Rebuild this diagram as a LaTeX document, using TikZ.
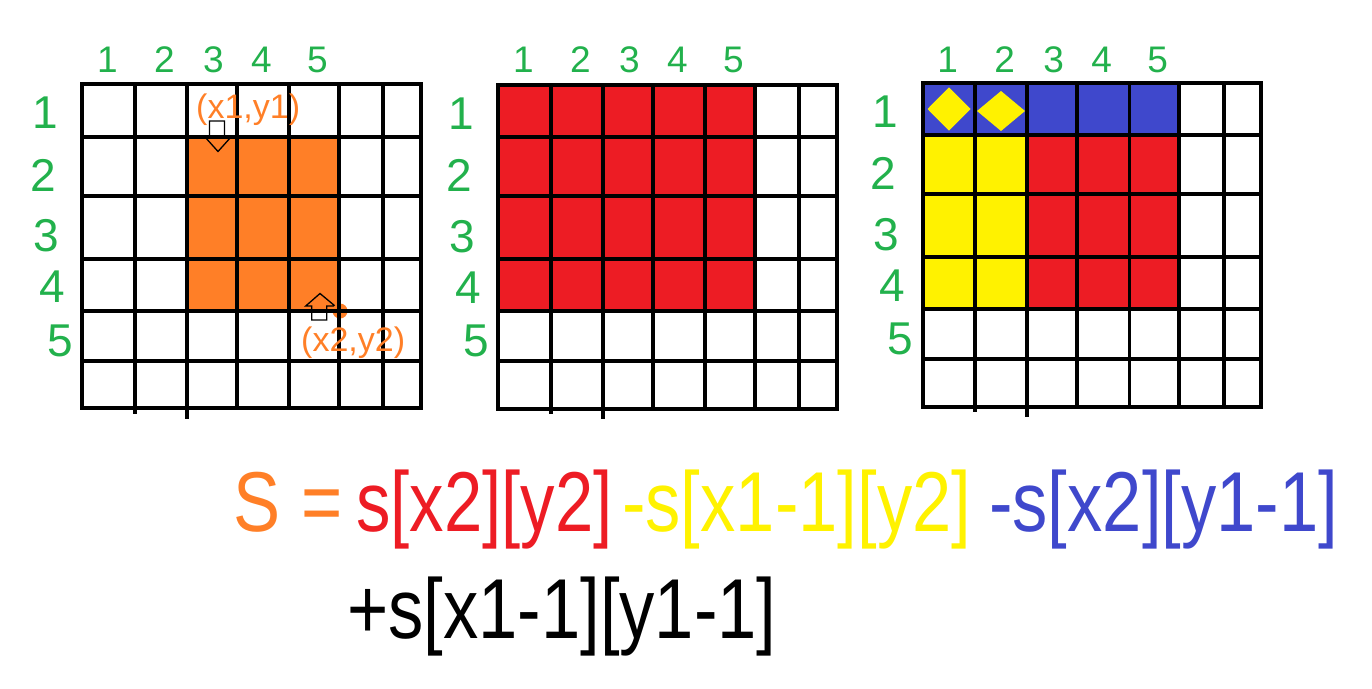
\documentclass[tikz,border=0pt]{standalone}
\usepackage{fontspec}
\setmainfont{Liberation Sans}
\definecolor{pgreen}{RGB}{34,177,76}
\definecolor{porange}{RGB}{255,127,39}
\definecolor{pred}{RGB}{237,28,36}
\definecolor{pyellow}{RGB}{255,242,0}
\definecolor{pblue}{RGB}{63,72,204}

\begin{document}
\begin{tikzpicture}
            [x=1pt,y=-1pt,
             gridline/.style={line width=3.8pt,line cap=rect},
             pointer/.style={draw=black,line width=1.3pt},
             collbl/.style={text=pgreen,inner sep=0pt,font=\fontsize{37}{40}\selectfont},
             rowlbl/.style={text=pgreen,inner sep=0pt,font=\fontsize{46}{50}\selectfont},
             corner/.style={text=porange,inner sep=0pt,anchor=base west,font=\fontsize{34}{36}\selectfont},
             formula/.style={inner sep=0pt,anchor=base west,xscale=0.83,font=\fontsize{85}{90}\selectfont}]
            \useasboundingbox (0,0) rectangle (1372,688);

            % coloured cells
            \fill[porange] (186.7,136.7) rectangle (339,310.7);
            \fill[pred] (498.3,85) rectangle (754.7,311);
            \fill[pblue] (922.7,82.7) rectangle (1179,135);
            \fill[pyellow] (922.7,135) rectangle (1026.7,308.3);
            \fill[pred] (1026.7,135) rectangle (1179,308.3);
            \fill[pyellow] (949,87.3) -- (970.5,109) -- (949,130.7) -- (927.5,109) -- cycle;
            \fill[pyellow] (1001,91) -- (1025,111) -- (1001,131) -- (977,111) -- cycle;

            % corner pointers
            \draw[pointer] (209.5,121) -- (224.5,121) -- (224.5,137) -- (231,137) -- (218,151.5) -- (205,137) -- (209.5,137) -- cycle;
            \draw[pointer] (320,293.5) -- (335,306) -- (326.7,306) -- (326.7,320) -- (311.7,320) -- (311.7,306) -- (305.7,306) -- cycle;
            \fill[porange] (340,311) circle (7.5);

            % the three grids
            \foreach \o/\d/\g in {82.3/0/a,498.3/0.3/b,922.7/-1.7/c} {
                \foreach \c in {0,52.5,104.5,154.5,206.7,256.5,301,338.4}
                    \draw[gridline] (\o+\c,84.3+\d) -- (\o+\c,408.3+\d);
                \foreach \r in {84.3,136.7,195.7,259,310.7,361,408.3}
                    \draw[gridline] (\o,\r+\d) -- (\o+338.4,\r+\d);
                \draw[gridline] (\o+52.5,408.3+\d) -- (\o+52.5,412+\d);
                \draw[gridline] (\o+104.5,408.3+\d) -- (\o+104.5,417+\d);
                \foreach \i/\dx in {1/25,2/82,3/131,4/179,5/235}
                    \node[collbl] (col\g\i) at (\o+\dx,60) {\i};
                \foreach \i/\dx/\y in {1/-37/113,2/-39/175,3/-36/236,4/-30/287,5/-22/341}
                    \node[rowlbl] (row\g\i) at (\o+\dx,\y+\d) {\i};
            }

            \node[corner] (p1) at (196,118) {(x1,y1)};
            \node[corner] (p2) at (301,351) {(x2,y2)};

            % formula
            \node[formula,text=porange] (lhs) at (233,531) {S};
            \node[formula,text=porange] (eq) at (301,531) {=};
            \node[formula,text=pred,xscale=0.81/0.83] (t1) at (356,531) {s[x2][y2]};
            \node[formula,text=pyellow] (t2) at (622,531) {-s[x1-1][y2]};
            \node[formula,text=pblue] (t3) at (989,531) {-s[x2][y1-1]};
            \node[formula] (t4) at (347,638) {+s[x1-1][y1-1]};
        \end{tikzpicture}
\end{document}
